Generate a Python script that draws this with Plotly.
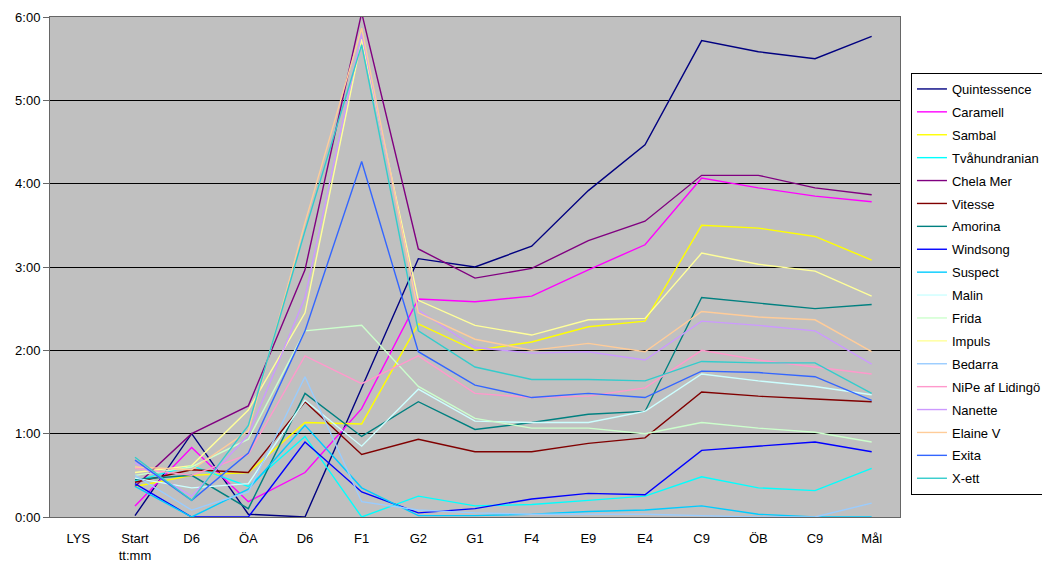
import plotly.graph_objects as go

categories = ["LYS", "Start<br>tt:mm", "D6", "ÖA", "D6", "F1", "G2", "G1", "F4", "E9", "E4", "C9", "ÖB", "C9", "Mål"]

quintessence  = [None, "0:01", "1:00", "0:02", "0:00", "1:33", "3:06", "3:00", "3:15", "3:55", "4:28", "5:43", "5:35", "5:30", "5:46"]
caramell      = [None, "0:08", "0:50", "0:11", "0:32", "1:18", "2:37", "2:35", "2:39", "2:58", "3:16", "4:04", "3:57", "3:51", "3:47"]
sambal        = [None, "0:22", "0:30", "0:32", "1:08", "1:07", "2:19", "2:00", "2:06", "2:17", "2:21", "3:30", "3:28", "3:22", "3:05"]
tvahundranian = [None, "0:26", "0:37", "0:22", "0:58", "0:00", "0:15", "0:08", "0:09", "0:12", "0:15", "0:29", "0:21", "0:19", "0:35"]
chela_mer     = [None, "0:22", "1:00", "1:20", "2:58", "6:03", "3:13", "2:52", "2:59", "3:19", "3:33", "4:06", "4:06", "3:57", "3:52"]
vitesse       = [None, "0:25", "0:34", "0:32", "1:23", "0:45", "0:56", "0:47", "0:47", "0:53", "0:57", "1:30", "1:27", "1:25", "1:23"]
amorina       = [None, "0:27", "0:30", "0:06", "1:29", "0:58", "1:23", "1:03", "1:08", "1:14", "1:16", "2:38", "2:34", "2:30", "2:33"]
windsong      = [None, "0:24", "0:00", "0:00", "0:54", "0:18", "0:03", "0:06", "0:13", "0:17", "0:16", "0:48", "0:51", "0:54", "0:47"]
suspect       = [None, "0:22", "0:00", "0:20", "1:06", "0:21", "0:01", "0:01", "0:02", "0:04", "0:05", "0:08", "0:02", "0:00", "0:00"]
malin         = [None, "0:28", "0:21", "0:24", "1:24", "0:51", "1:32", "1:09", "1:08", "1:08", "1:16", "1:43", "1:38", "1:34", "1:28"]
frida         = [None, "0:30", "0:36", "0:56", "2:14", "2:18", "1:34", "1:11", "1:04", "1:04", "1:00", "1:08", "1:04", "1:01", "0:54"]
impuls        = [None, "0:32", "0:37", "1:17", "2:27", "5:44", "2:36", "2:18", "2:11", "2:22", "2:23", "3:10", "3:02", "2:57", "2:39"]
bedarra       = [None, "0:30", "0:05", "0:18", "1:41", "0:11", "0:05", "0:03", "0:02", "0:02", "0:02", "0:01", "0:00", "0:00", "0:10"]
nipe          = [None, "0:35", "0:30", "0:45", "1:56", "1:36", "1:56", "1:29", "1:26", "1:27", "1:33", "2:00", "1:53", "1:48", "1:43"]
nanette       = [None, "0:39", "0:15", "0:59", "2:38", "5:48", "2:29", "2:02", "1:58", "1:59", "1:53", "2:21", "2:18", "2:14", "1:50"]
elaine_v      = [None, "0:36", "0:34", "1:02", "3:32", "5:52", "2:27", "2:08", "2:00", "2:05", "1:59", "2:28", "2:24", "2:22", "1:59"]
exita         = [None, "0:41", "0:12", "0:46", "2:14", "4:16", "1:59", "1:35", "1:26", "1:29", "1:26", "1:45", "1:44", "1:41", "1:24"]
x_ett         = [None, "0:43", "0:12", "1:06", "3:26", "5:40", "2:14", "1:48", "1:39", "1:39", "1:38", "1:52", "1:51", "1:51", "1:29"]

y_tick_labels = ["0:00", "1:00", "2:00", "3:00", "4:00", "5:00", "6:00"]

series = [
    ("Quintessence", quintessence, "#000080"),
    ("Caramell", caramell, "#FF00FF"),
    ("Sambal", sambal, "#FFFF00"),
    ("Tvåhundranian", tvahundranian, "#00FFFF"),
    ("Chela Mer", chela_mer, "#800080"),
    ("Vitesse", vitesse, "#800000"),
    ("Amorina", amorina, "#008080"),
    ("Windsong", windsong, "#0000FF"),
    ("Suspect", suspect, "#00CCFF"),
    ("Malin", malin, "#CCFFFF"),
    ("Frida", frida, "#CCFFCC"),
    ("Impuls", impuls, "#FFFF99"),
    ("Bedarra", bedarra, "#99CCFF"),
    ("NiPe af Lidingö", nipe, "#FF99CC"),
    ("Nanette", nanette, "#CC99FF"),
    ("Elaine V", elaine_v, "#FFCC99"),
    ("Exita", exita, "#3366FF"),
    ("X-ett", x_ett, "#33CCCC"),
]


def to_minutes(t):
    if t is None:
        return None
    h, m = t.split(":")
    return int(h) * 60 + int(m)


xpos = list(range(len(categories)))

fig = go.Figure()
for name, vals, color in series:
    fig.add_trace(go.Scatter(
        x=xpos,
        y=[to_minutes(v) for v in vals],
        mode="lines",
        name=name,
        line=dict(color=color, width=1.4),
        legendgroup=name,
    ))

fig.update_layout(
    width=1042, height=563,
    margin=dict(l=50, r=142, t=17, b=46, autoexpand=False),
    paper_bgcolor="white",
    plot_bgcolor="#C0C0C0",
    font=dict(family="Liberation Sans, Arial, sans-serif", size=13, color="black"),
    showlegend=True,
    legend=dict(
        x=1.0129, xanchor="left", y=0.888, yanchor="top",
        bgcolor="white", bordercolor="black", borderwidth=1,
        font=dict(size=13), tracegroupgap=3, itemwidth=30,
        traceorder="grouped",
    ),
    xaxis=dict(
        range=[-0.5, len(categories) - 0.5],
        tickmode="array", tickvals=xpos, ticktext=categories,
        showgrid=False, zeroline=False,
        showline=True, linecolor="#666666", linewidth=1, mirror=True,
        ticks="outside", ticklen=9, tickcolor="rgba(0,0,0,0)",
        tickfont=dict(size=13),
        fixedrange=True,
    ),
    yaxis=dict(
        range=[0, 360],
        tickmode="array", tickvals=[to_minutes(t) for t in y_tick_labels], ticktext=y_tick_labels,
        showgrid=True, gridcolor="black", gridwidth=1,
        zeroline=False,
        showline=True, linecolor="#666666", linewidth=1, mirror=True,
        ticks="outside", ticklen=6, tickcolor="#666666",
        tickfont=dict(size=13),
        fixedrange=True,
    ),
)

fig.write_html(
    "out.html",
    config={"displayModeBar": False},
    post_script="document.body.style.margin='0';document.body.style.overflow='hidden';",
)
